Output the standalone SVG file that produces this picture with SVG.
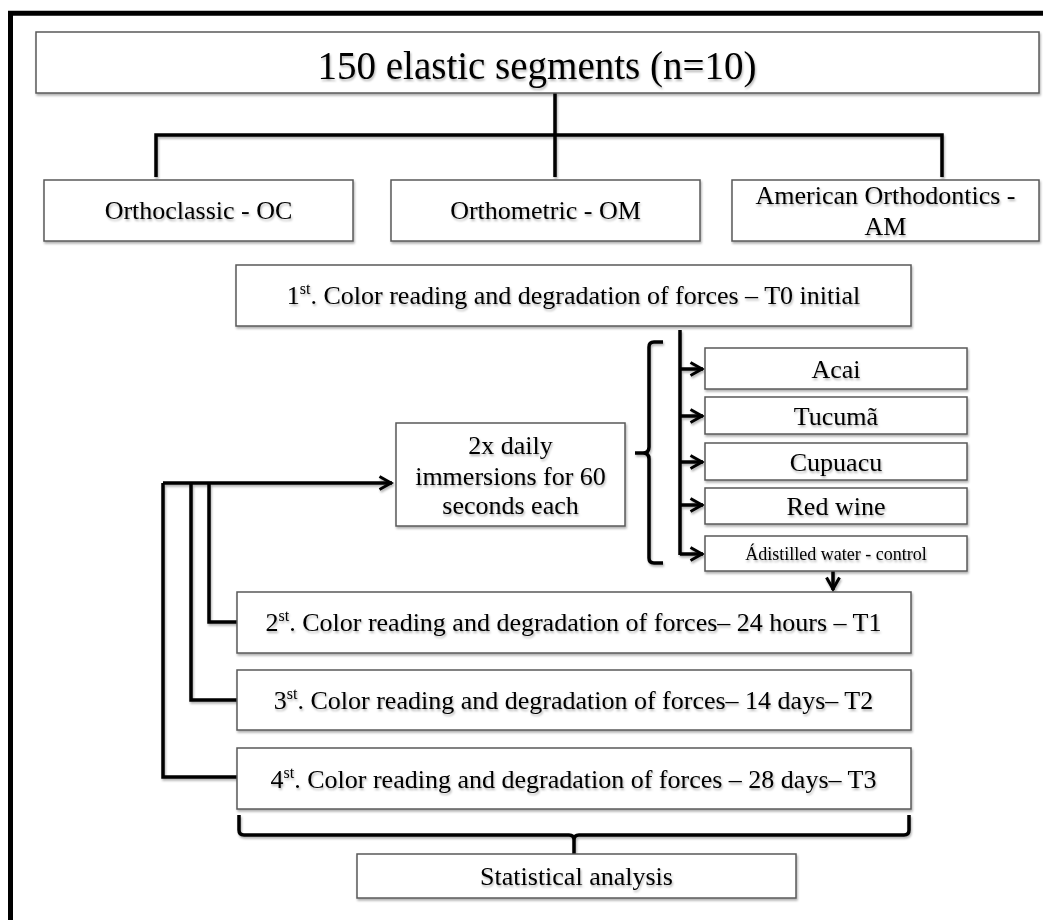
<svg xmlns="http://www.w3.org/2000/svg" width="1043" height="920" viewBox="0 0 1043 920">
<defs>
<filter id="sh" filterUnits="userSpaceOnUse" x="0" y="0" width="1043" height="920">
<feDropShadow dx="1" dy="2" stdDeviation="1.2" flood-color="#000" flood-opacity="0.3"/>
</filter>
<marker id="ah" viewBox="0 0 16 16" refX="14.5" refY="8" markerWidth="16" markerHeight="16" markerUnits="userSpaceOnUse" orient="auto">
<path d="M2,1.5 L13.5,8 L2,14.5" fill="none" stroke="#000" stroke-width="3" stroke-linejoin="miter"/>
</marker>
<style>
.box{fill:#fff;stroke:#5a5a5a;stroke-width:1.5;filter:url(#sh)}
.t{font-family:"Liberation Serif","Times New Roman",serif;fill:#000;text-anchor:middle;font-size:26px;filter:url(#sh)}
.c{fill:none;stroke:#000;stroke-width:3.5}
.a{fill:none;stroke:#000;stroke-width:3.5;marker-end:url(#ah)}
.sup{font-size:16px}
</style>
</defs>
<rect width="1043" height="920" fill="#fff"/>
<path d="M10.5,920 V13.3 H1043" fill="none" stroke="#000" stroke-width="5"/>

<g id="connectors" filter="url(#sh)">
<path class="c" d="M555,93 V177 M156,177 V135 H942 V177"/>
<path class="c" d="M680,330 V555"/>
<path class="a" d="M680,369 H703"/>
<path class="a" d="M680,416 H703"/>
<path class="a" d="M680,462 H703"/>
<path class="a" d="M680,505 H703"/>
<path class="a" d="M680,554 H703"/>
<path class="c" d="M663,342 H654 Q649,342 649,347 V447 Q649,453 643,453 H635 M643,453 Q649,453 649,459 V558 Q649,563 654,563 H663"/>
<path class="a" d="M163,483 H392"/>
<path class="c" d="M163,483 V777 H237 M191,483 V700 H237 M209,483 V622 H237"/>
<path class="a" d="M833,571 V590"/>
<path class="c" d="M239,815 V830 Q239,835 244,835 H569 Q574,835 574,840 V854 M574,840 Q574,835 579,835 H904 Q909,835 909,830 V815"/>
</g>

<g id="n-top">
<rect class="box" x="36" y="32" width="1003" height="61"/>
<text class="t" x="537" y="79" style="font-size:39px">150 elastic segments (n=10)</text>
</g>
<g id="n-oc">
<rect class="box" x="44" y="180" width="309" height="61"/>
<text class="t" x="198.5" y="219">Orthoclassic - OC</text>
</g>
<g id="n-om">
<rect class="box" x="391" y="180" width="309" height="61"/>
<text class="t" x="545.5" y="219">Orthometric - OM</text>
</g>
<g id="n-am">
<rect class="box" x="732" y="180" width="307" height="61"/>
<text class="t" x="885.5" y="204">American Orthodontics -</text>
<text class="t" x="885.5" y="235">AM</text>
</g>
<g id="n-t0">
<rect class="box" x="236" y="265" width="675" height="61"/>
<text class="t" x="573.5" y="304">1<tspan class="sup" dy="-10">st</tspan><tspan dy="10">. Color reading and degradation of forces – T0 initial</tspan></text>
</g>
<g id="n-acai">
<rect class="box" x="705" y="348" width="262" height="41"/>
<text class="t" x="836" y="378">Acai</text>
</g>
<g id="n-tucuma">
<rect class="box" x="705" y="397" width="262" height="37"/>
<text class="t" x="836" y="425">Tucumã</text>
</g>
<g id="n-cupuacu">
<rect class="box" x="705" y="443" width="262" height="37"/>
<text class="t" x="836" y="471">Cupuacu</text>
</g>
<g id="n-wine">
<rect class="box" x="705" y="488" width="262" height="36"/>
<text class="t" x="836" y="515">Red wine</text>
</g>
<g id="n-water">
<rect class="box" x="705" y="536" width="262" height="35"/>
<text class="t" x="836" y="560" style="font-size:18px">Ádistilled water - control</text>
</g>
<g id="n-immersion">
<rect class="box" x="396" y="423" width="229" height="103"/>
<text class="t" x="510.5" y="454">2x daily</text>
<text class="t" x="510.5" y="485">immersions for 60</text>
<text class="t" x="510.5" y="514">seconds each</text>
</g>
<g id="n-t1">
<rect class="box" x="237" y="592" width="674" height="61"/>
<text class="t" x="573.5" y="631">2<tspan class="sup" dy="-10">st</tspan><tspan dy="10">. Color reading and degradation of forces– 24 hours – T1</tspan></text>
</g>
<g id="n-t2">
<rect class="box" x="237" y="670" width="674" height="60"/>
<text class="t" x="573.5" y="709">3<tspan class="sup" dy="-10">st</tspan><tspan dy="10">. Color reading and degradation of forces– 14 days– T2</tspan></text>
</g>
<g id="n-t3">
<rect class="box" x="237" y="748" width="674" height="61"/>
<text class="t" x="573.5" y="788">4<tspan class="sup" dy="-10">st</tspan><tspan dy="10">. Color reading and degradation of forces – 28 days– T3</tspan></text>
</g>
<g id="n-stat">
<rect class="box" x="357" y="854" width="439" height="44"/>
<text class="t" x="576.5" y="885">Statistical analysis</text>
</g>
</svg>
